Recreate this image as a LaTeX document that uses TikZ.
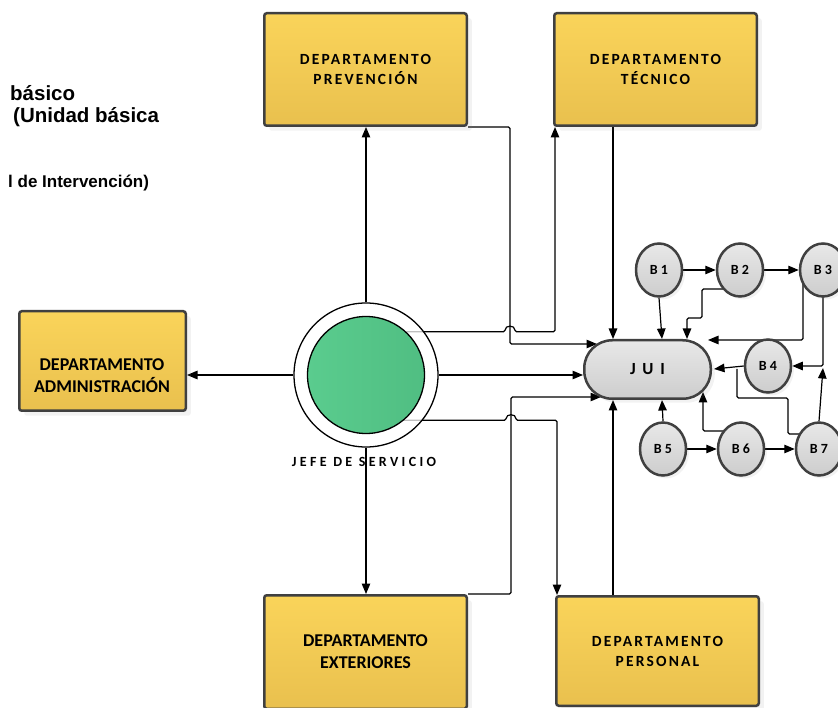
\documentclass[tikz,border=0pt]{standalone}
\usepackage{fontspec}
\setmainfont{Carlito}
\newfontfamily\arialfont{Liberation Sans}
\newfontfamily\spacedfont[LetterSpace=14]{Carlito}
\newfontfamily\widefont[LetterSpace=24]{Carlito}
\newfontfamily\bfont[LetterSpace=22]{Carlito}
\newfontfamily\juifont[LetterSpace=40]{Carlito}
\usetikzlibrary{arrows.meta,shapes.geometric,shadows}
\pgfdeclarelayer{bg}
\pgfsetlayers{bg,main}
\definecolor{ylA}{RGB}{250,212,90}
\definecolor{ylB}{RGB}{233,192,78}
\definecolor{bord}{RGB}{64,64,64}
\definecolor{grA}{RGB}{90,204,142}
\definecolor{grB}{RGB}{80,190,130}
\definecolor{gyA}{RGB}{232,232,232}
\definecolor{gyB}{RGB}{205,205,205}
\begin{document}
\begin{tikzpicture}[x=1pt,y=-1pt,
 dept/.style={draw=bord, line width=2.5pt, rounded corners=2.5pt, top color=ylA, bottom color=ylB,
   minimum width=202.5pt, minimum height=112.5pt, inner sep=0pt, align=center,
   drop shadow={opacity=0.10, shadow xshift=5pt, shadow yshift=-5pt}},
 sp/.style={font=\spacedfont\bfseries\fontsize{15.5}{20}\selectfont},
 pl/.style={font=\bfseries\fontsize{18}{22}\selectfont},
 bub/.style={ellipse, draw=bord, line width=2.5pt, top color=gyA, bottom color=gyB,
   minimum width=46pt, minimum height=53pt, inner sep=0pt,
   font=\bfont\bfseries\fontsize{14}{14}\selectfont,
   drop shadow={opacity=0.10, shadow xshift=3pt, shadow yshift=-3pt}},
 conn/.style={draw=black, line width=1.2pt, rounded corners=1.5pt},
 arr/.style={conn, -{Triangle[length=10.5pt,width=8.5pt]}},
 note/.style={anchor=base west, inner sep=0pt, font=\arialfont\bfseries\fontsize{20.5}{20.5}\selectfont},
]
\useasboundingbox (0,0) rectangle (838,708);

% texts at top left
\node[note] (t1) at (10,101) {básico};
\node[note] (t2) at (13,123) {(Unidad básica};
\node[note, font=\arialfont\bfseries\fontsize{17}{17}\selectfont] (t3) at (8,188) {l de Intervención)};

% departments
\node[dept, sp] (prev) at (365.5,69.5) {DEPARTAMENTO\\PREVENCIÓN};
\node[dept, sp] (tec) at (655.5,69.5) {DEPARTAMENTO\\TÉCNICO};
\node[dept, minimum width=166.5pt, minimum height=99.5pt] (adm) at (102.5,361) {};
\node[pl, align=center, inner sep=0pt] (admt) at (102,376) {DEPARTAMENTO\\ADMINISTRACIÓN};
\node[dept, pl, minimum height=113.5pt] (ext) at (365.5,652) {DEPARTAMENTO\\EXTERIORES};
\node[dept, sp, minimum height=109.5pt] (pers) at (657.5,651) {DEPARTAMENTO\\PERSONAL};

% jefe
\node[circle, draw=black, line width=1.3pt, fill=white, fill opacity=0.75, minimum size=144pt, inner sep=0pt] (jefe) at (366,375) {};
\node[circle, draw=black, line width=1.3pt, left color=grA, right color=grB, minimum size=117pt, inner sep=0pt] (jin) at (366,375) {};
\node[font=\widefont\bfseries\fontsize{14}{14}\selectfont] (jefet) at (364,462) {JEFE DE SERVICIO};

% JUI
\node[draw=bord, line width=2.5pt, rounded corners=28pt, top color=gyA, bottom color=gyB,
  minimum width=126.5pt, minimum height=58.5pt, inner sep=0pt,
  font=\juifont\bfseries\fontsize{17}{17}\selectfont,
  drop shadow={opacity=0.10, shadow xshift=4pt, shadow yshift=-4pt}] (jui) at (647.5,369.5) {JUI};

% B units
\node[bub] (b1) at (659,270) {B1};
\node[bub] (b2) at (740,270) {B2};
\node[bub] (b3) at (823,270) {B3};
\node[bub] (b4) at (768,366) {B4};
\node[bub] (b5) at (663,449) {B5};
\node[bub] (b6) at (741,449) {B6};
\node[bub] (b7) at (819,449) {B7};

% end points on JUI outline
\coordinate (jtl) at (597,344);
\coordinate (jbl) at (601,397);
\coordinate (jtr) at (708,340);
\coordinate (jr) at (714,369);
\coordinate (jbr) at (703,392);
\coordinate (junc) at (823,368);

\begin{pgfonlayer}{bg}
\draw[arr] (jefe.north) -- (jefe.north |- prev.south);
\draw[arr] (jefe.south) -- (jefe.south |- ext.north);
\draw[arr] (jefe.west) -- (jefe.west -| adm.east);
\draw[arr] (jefe.east) -- (jefe.east -| jui.west);
\draw[arr] (jin.47) -- (505,0 |- jin.47) .. controls +(0,-7) and +(0,-7) .. (515,0 |- jin.47)
   -- (555,0 |- jin.47) -- (555,0 |- tec.south);
\draw[arr] (prev.south east) -- (510,0 |- prev.south east) -- (510,344) -- (jtl);
\draw[arr] (613,0 |- tec.south) -- (613,0 |- jui.north);
\draw[arr] (ext.north east) -- (511,0 |- ext.north east) -- (511,397) -- (jbl);
\draw[arr] (jin.-50) -- (506,0 |- jin.-50) .. controls +(0,-7) and +(0,-7) .. (516,0 |- jin.-50)
   -- (557,0 |- jin.-50) -- (557,0 |- pers.north);
\draw[arr] (613,0 |- pers.north) -- (613,0 |- jui.south);

\draw[arr] (b1) -- (b2);
\draw[arr] (b2) -- (b3);
\draw[arr] (b5) -- (b6);
\draw[arr] (b6) -- (b7);
\draw[arr] (b1.south) -- (662,0 |- jui.north);
\draw[arr] (b2 |- 0,289) -- (702,289) -- (702,318) -- (687,318) -- (687,0 |- jui.north);
\draw[arr] (803,0 |- b3.center) -- (803,340) -- (jtr);
\draw[arr] (b3.center) -- (b3.center |- b4.east) -- (b4.east);
\draw[arr] (b7.north) -- (junc);
\draw[arr] (b4.west) -- (jr);
\draw[conn] (b7 |- 0,434) -- (788,434) -- (788,398) -- (737,398) -- (737,369);
\draw[arr] (b5.north) -- (662,0 |- jui.south);
\draw[arr] (b6 |- 0,431) -- (703,431) -- (jbr);
\end{pgfonlayer}
\end{tikzpicture}
\end{document}
